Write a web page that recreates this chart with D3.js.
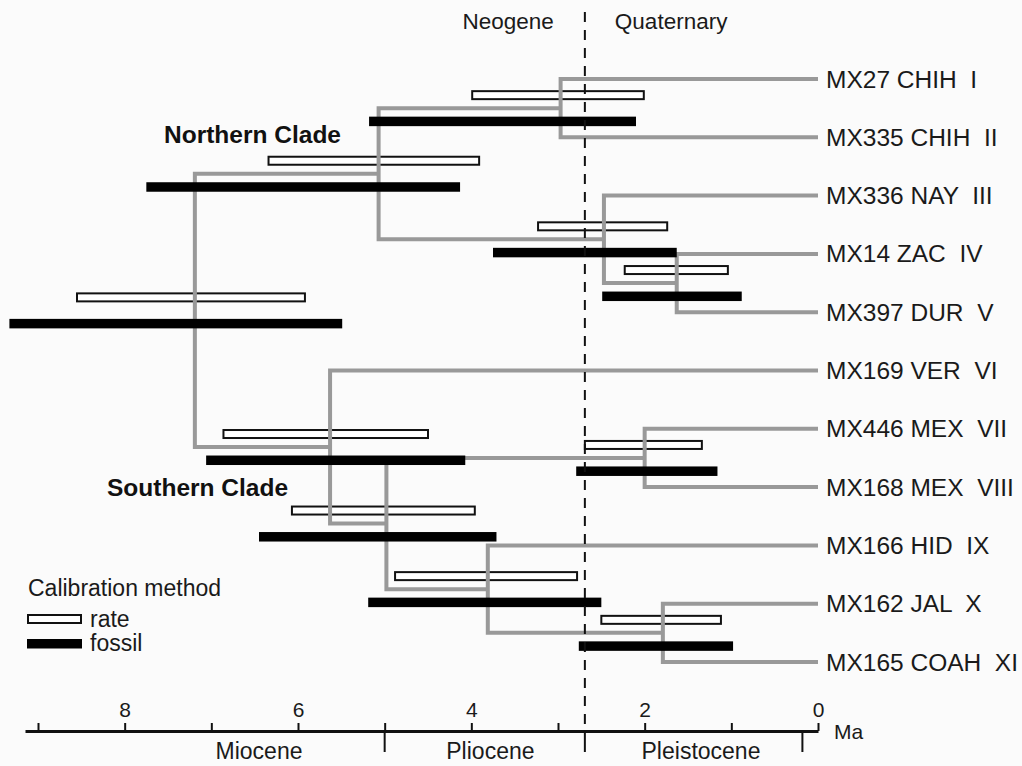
<!DOCTYPE html>
<html>
<head>
<meta charset="utf-8">
<script src="https://cdn.jsdelivr.net/npm/d3@7"></script>
<style>
  body { margin: 0; background: #fbfbfb; }
  svg { display: block; font-family: Arial, "Liberation Sans", sans-serif; }
</style>
</head>
<body>
<div id="chart"></div>
<script>
// tips, top to bottom
const tipLabels = ["MX27 CHIH  I", "MX335 CHIH  II", "MX336 NAY  III", "MX14 ZAC  IV", "MX397 DUR  V",
  "MX169 VER  VI", "MX446 MEX  VII", "MX168 MEX  VIII", "MX166 HID  IX", "MX162 JAL  X", "MX165 COAH  XI"];

// internal nodes (ages in Ma), children are node names or tip indices
const nodeNames = ["root", "north", "chih", "nay", "zacdur", "south", "s2", "mex", "s3", "jalcoah"];
const nodeAges = [7.19, 5.07, 2.97, 2.47, 1.63, 5.63, 4.98, 2.0, 3.81, 1.79];
const nodeChildren = [["north", "south"], ["chih", "nay"], [0, 1], [2, "zacdur"], [3, 4],
  [5, "s2"], ["mex", "s3"], [6, 7], [8, "jalcoah"], [9, 10]];

// calibration intervals per node
const rateMin = [5.92, 3.91, 2.01, 1.74, 1.04, 4.50, 3.96, 1.34, 2.78, 1.12];
const rateMax = [8.55, 6.34, 3.99, 3.23, 2.23, 6.86, 6.07, 2.69, 4.88, 2.50];
const fossilMin = [5.49, 4.13, 2.10, 1.63, 0.88, 4.07, 3.71, 1.16, 2.50, 0.98];
const fossilMax = [9.33, 7.75, 5.18, 3.75, 2.49, 7.06, 6.45, 2.79, 5.19, 2.76];

// axis
const tickValues = [9, 8, 7, 6, 5, 4, 3, 2, 1, 0];
const epochBounds = [5.0, 2.69, 0.18];
const epochNames = ["Miocene", "Pliocene", "Pleistocene"];
const epochMid = [6.45, 3.78, 1.35];
const periodBoundary = 2.69;

const W = 1022, H = 766;
const axisY = 731;

const x = d3.scaleLinear().domain([9.15, 0]).range([25, 818]);
const y = d3.scaleLinear().domain([0, tipLabels.length - 1]).range([79, 662]);

const svg = d3.select("#chart").append("svg")
  .attr("width", W).attr("height", H);

svg.append("rect").attr("width", W).attr("height", H).attr("fill", "#fbfbfb");

// node lookup + y positions (mean of children)
const nodes = {};
nodeNames.forEach((n, i) => {
  nodes[n] = { name: n, age: nodeAges[i], children: nodeChildren[i], i };
});
function posY(c) {
  if (typeof c === "number") return y(c);
  const n = nodes[c];
  if (n.y === undefined) n.y = (posY(n.children[0]) + posY(n.children[1])) / 2;
  return n.y;
}
function ageOf(c) { return typeof c === "number" ? 0 : nodes[c].age; }
nodeNames.forEach(n => posY(n));
const nodeList = nodeNames.map(n => nodes[n]);

// rate bars (under tree)
svg.append("g").selectAll("rect")
  .data(nodeList)
  .join("rect")
  .attr("x", d => x(rateMax[d.i]))
  .attr("y", d => d.y - 17)
  .attr("width", d => x(rateMin[d.i]) - x(rateMax[d.i]))
  .attr("height", 8)
  .attr("fill", "#fff")
  .attr("stroke", "#111")
  .attr("stroke-width", 2);

// tree branches
svg.append("g").selectAll("path")
  .data(nodeList)
  .join("path")
  .attr("d", d => {
    const [a, b] = d.children;
    const px = x(d.age);
    return `M${x(ageOf(a))},${posY(a)}H${px}V${posY(b)}H${x(ageOf(b))}`;
  })
  .attr("fill", "none")
  .attr("stroke", "#999")
  .attr("stroke-width", 4);

// fossil bars
svg.append("g").selectAll("rect")
  .data(nodeList)
  .join("rect")
  .attr("x", d => x(fossilMax[d.i]))
  .attr("y", d => d.y + 8.5)
  .attr("width", d => x(fossilMin[d.i]) - x(fossilMax[d.i]))
  .attr("height", 9.5)
  .attr("fill", "#000");

// tip labels
svg.append("g").selectAll("text")
  .data(tipLabels)
  .join("text")
  .attr("x", 826)
  .attr("y", (d, i) => y(i) + 8.5)
  .style("white-space", "pre")
  .attr("font-size", 24.5)
  .attr("fill", "#1a1a1a")
  .text(d => d);

// period boundary dashed line
svg.append("line")
  .attr("x1", x(periodBoundary)).attr("x2", x(periodBoundary))
  .attr("y1", 12).attr("y2", axisY)
  .attr("stroke", "#111").attr("stroke-width", 2)
  .attr("stroke-dasharray", "10,8");

svg.append("text").attr("x", x(periodBoundary) - 31).attr("y", 29)
  .attr("text-anchor", "end").attr("font-size", 22.5).attr("fill", "#1a1a1a").text("Neogene");
svg.append("text").attr("x", x(periodBoundary) + 30).attr("y", 29)
  .attr("text-anchor", "start").attr("font-size", 22.5).attr("fill", "#1a1a1a").text("Quaternary");

// clade labels
svg.append("text").attr("x", 164).attr("y", 143).attr("font-size", 24.5)
  .attr("font-weight", "bold").attr("fill", "#111").text("Northern Clade");
svg.append("text").attr("x", 107).attr("y", 496).attr("font-size", 24.5)
  .attr("font-weight", "bold").attr("fill", "#111").text("Southern Clade");

// time axis
const axis = svg.append("g")
  .attr("transform", `translate(0,${axisY})`)
  .call(d3.axisTop(x).tickValues(tickValues).tickSize(8).tickSizeOuter(0).tickPadding(6)
    .tickFormat(d => d % 2 === 0 ? d : ""));
axis.select(".domain").attr("stroke", "#111").attr("stroke-width", 3);
axis.selectAll(".tick line").attr("stroke", "#111").attr("stroke-width", 2);
axis.selectAll(".tick text").attr("font-size", 21).attr("fill", "#1a1a1a")
  .attr("font-family", "Arial, 'Liberation Sans', sans-serif");

svg.append("text").attr("x", 834).attr("y", 739).attr("font-size", 21)
  .attr("fill", "#1a1a1a").text("Ma");

// epoch boundaries + names
svg.append("g").selectAll("line")
  .data(epochBounds)
  .join("line")
  .attr("x1", d => x(d)).attr("x2", d => x(d))
  .attr("y1", axisY).attr("y2", axisY + 21)
  .attr("stroke", "#111").attr("stroke-width", 2);

svg.append("g").selectAll("text")
  .data(epochNames)
  .join("text")
  .attr("x", (d, i) => x(epochMid[i]))
  .attr("y", 759)
  .attr("text-anchor", "middle")
  .attr("font-size", 23)
  .attr("fill", "#1a1a1a")
  .text(d => d);

// legend
const legend = svg.append("g");
legend.append("text").attr("x", 28).attr("y", 596).attr("font-size", 23)
  .attr("fill", "#1a1a1a").text("Calibration method");
legend.append("rect").attr("x", 28).attr("y", 615).attr("width", 53).attr("height", 8)
  .attr("fill", "#fff").attr("stroke", "#111").attr("stroke-width", 2);
legend.append("text").attr("x", 90).attr("y", 627).attr("font-size", 23)
  .attr("fill", "#1a1a1a").text("rate");
legend.append("rect").attr("x", 27).attr("y", 639).attr("width", 55).attr("height", 9.5)
  .attr("fill", "#000");
legend.append("text").attr("x", 90).attr("y", 651).attr("font-size", 23)
  .attr("fill", "#1a1a1a").text("fossil");
</script>
</body>
</html>
